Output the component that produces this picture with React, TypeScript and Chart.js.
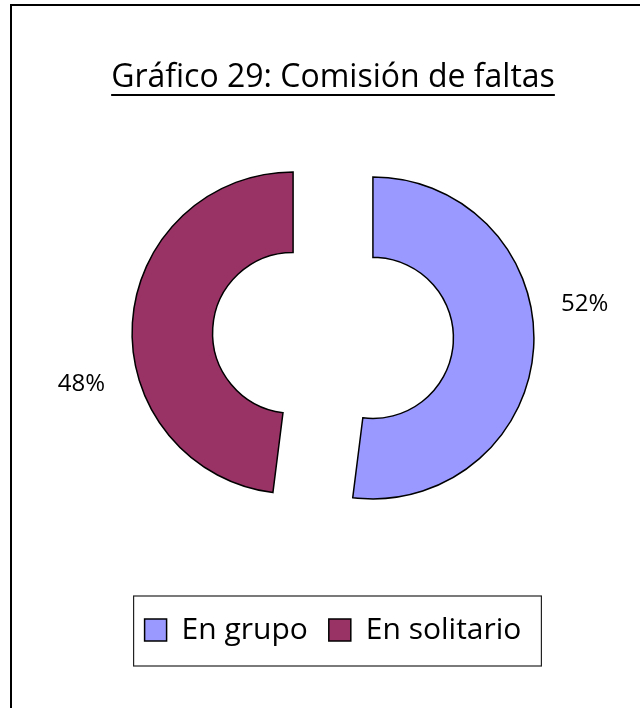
import React, { useEffect, useRef } from 'react';
import { Chart, registerables } from 'chart.js';

Chart.register(...registerables);

const TITLE = 'Gráfico 29: Comisión de faltas';
const CATEGORIES = ['En grupo', 'En solitario'];
const VALUES = [52, 48];
const COLORS = ['#9999FF', '#993366'];

const FONT = "'Open Sans', 'DejaVu Sans', sans-serif";
const EXPLODE = 40;
const LABEL_SHIFT = (15 * Math.PI) / 180;
const LABEL_GAP = 55;

const TITLE_SIZE = 32;
const TITLE_LH = 0.2;
const TITLE_PAD_TOP = 74.8;

const explodePlugin = {
  id: 'explodeSlices',
  afterDatasetsUpdate(chart: any) {
    const meta = chart.getDatasetMeta(0);
    meta.data.forEach((arc: any) => {
      const mid = (arc.startAngle + arc.endAngle) / 2;
      arc.x += Math.cos(mid) * EXPLODE;
      arc.y += Math.sin(mid) * EXPLODE;
    });
  },
};

const labelPlugin = {
  id: 'percentLabels',
  afterDatasetsDraw(chart: any) {
    const { ctx } = chart;
    const meta = chart.getDatasetMeta(0);
    const total = VALUES.reduce((a, b) => a + b, 0);
    ctx.save();
    ctx.font = `24px ${FONT}`;
    ctx.fillStyle = '#000';
    ctx.textAlign = 'center';
    ctx.textBaseline = 'middle';
    meta.data.forEach((arc: any, i: number) => {
      const mid = (arc.startAngle + arc.endAngle) / 2 - LABEL_SHIFT;
      const r = arc.outerRadius + LABEL_GAP;
      const pct = Math.round((VALUES[i] / total) * 100);
      ctx.fillText(`${pct}%`, arc.x + Math.cos(mid) * r, arc.y + Math.sin(mid) * r + 9);
    });
    ctx.restore();
  },
};

const framePlugin = {
  id: 'frames',
  afterDraw(chart: any) {
    const { ctx } = chart;
    ctx.save();
    // title underline
    const tb = chart.titleBlock;
    if (tb) {
      ctx.font = `normal ${TITLE_SIZE}px ${FONT}`;
      const w = ctx.measureText(TITLE).width;
      const cx = (tb.left + tb.right) / 2;
      const y = tb.top + TITLE_PAD_TOP + (TITLE_SIZE * TITLE_LH) / 2 + 17;
      ctx.strokeStyle = '#000';
      ctx.lineWidth = 2;
      ctx.beginPath();
      ctx.moveTo(cx - w / 2, y);
      ctx.lineTo(cx + w / 2, y);
      ctx.stroke();
    }
    // legend box
    const hb = chart.legend && chart.legend.legendHitBoxes;
    if (hb && hb.length) {
      const first = hb[0];
      const last = hb[hb.length - 1];
      const x0 = first.left - 11;
      const x1 = last.left + last.width + 20;
      const cy = first.top + first.height / 2;
      ctx.strokeStyle = '#222';
      ctx.lineWidth = 1.2;
      ctx.strokeRect(x0, cy - 34, x1 - x0, 70);
    }
    ctx.restore();
  },
};

export default function App() {
  const canvasRef = useRef<HTMLCanvasElement | null>(null);

  useEffect(() => {
    const canvas = canvasRef.current;
    if (!canvas) return;
    const chart = new Chart(canvas, {
      type: 'doughnut',
      data: {
        labels: CATEGORIES,
        datasets: [
          {
            data: VALUES,
            backgroundColor: COLORS,
            borderColor: '#000',
            borderWidth: 1.5,
            borderJoinStyle: 'miter',
            borderAlign: 'center',
          } as any,
        ],
      },
      options: {
        responsive: false,
        animation: false,
        events: [],
        radius: 161,
        cutout: '50%',
        layout: { padding: { left: 26, right: 0, top: 0, bottom: 53 } },
        plugins: {
          title: {
            display: true,
            text: TITLE,
            color: '#000',
            font: { family: FONT, size: TITLE_SIZE, weight: 'normal', lineHeight: TITLE_LH },
            padding: { top: TITLE_PAD_TOP, bottom: -4.4 },
          },
          legend: {
            position: 'bottom',
            labels: {
              boxWidth: 22,
              boxHeight: 22,
              padding: 21,
              color: '#000',
              font: { family: FONT, size: 30 },
            },
          },
          tooltip: { enabled: false },
        },
      } as any,
      plugins: [explodePlugin, labelPlugin, framePlugin],
    });
    return () => chart.destroy();
  }, []);

  return (
    <div
      style={{
        position: 'fixed',
        left: 0,
        top: 0,
        width: 640,
        height: 708,
        overflow: 'hidden',
        background: '#fff',
      }}
    >
      <div
        style={{
          position: 'absolute',
          left: 10,
          top: 4,
          width: 660,
          height: 760,
          borderLeft: '2px solid #000',
          borderTop: '2px solid #000',
        }}
      />
      <canvas
        ref={canvasRef}
        width={640}
        height={708}
        style={{ position: 'absolute', left: 0, top: 0, width: 640, height: 708 }}
      />
    </div>
  );
}
